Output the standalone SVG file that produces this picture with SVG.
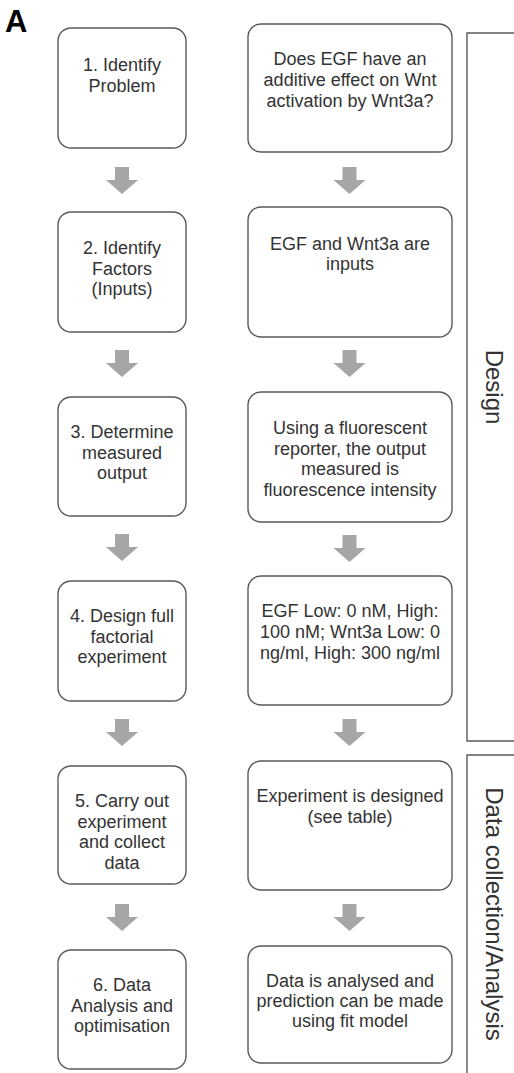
<svg xmlns="http://www.w3.org/2000/svg" width="514" height="1073" viewBox="0 0 514 1073">
<style>
.box{fill:#fff;stroke:#5a5a5a;stroke-width:1.4}
.t{font-family:"Liberation Sans",Arial,sans-serif;font-size:18px;fill:#333;text-anchor:middle}
.side{font-family:"Liberation Sans",Arial,sans-serif;font-size:24px;fill:#333;text-anchor:middle}
.br{fill:none;stroke:#5a5a5a;stroke-width:1.4}
.arr{fill:#a6a6a6}
</style>
<defs>
<path id="arrow" class="arr" d="M-7,0 H7 V13 H16 L0,27 L-16,13 H-7 Z"/>
</defs>
<rect width="514" height="1073" fill="#fff"/>
<text x="5" y="32" font-family="Liberation Sans,Arial,sans-serif" font-size="31" font-weight="bold" fill="#000">A</text>

<g id="connectors">
<use href="#arrow" x="122" y="167"/>
<use href="#arrow" x="122" y="350"/>
<use href="#arrow" x="122" y="534"/>
<use href="#arrow" x="122" y="719"/>
<use href="#arrow" x="122" y="904"/>
<use href="#arrow" x="349.5" y="167"/>
<use href="#arrow" x="349.5" y="350"/>
<use href="#arrow" x="349.5" y="535"/>
<use href="#arrow" x="349.5" y="719"/>
<use href="#arrow" x="349.5" y="904"/>
</g>

<g id="step1">
<rect class="box" x="58" y="28" width="128" height="120" rx="13"/>
<text class="t" x="122" y="71">1. Identify</text>
<text class="t" x="122" y="91.5">Problem</text>
</g>
<g id="step2">
<rect class="box" x="58" y="212" width="128" height="120" rx="13"/>
<text class="t" x="122" y="254">2. Identify</text>
<text class="t" x="122" y="274.5">Factors</text>
<text class="t" x="122" y="295">(Inputs)</text>
</g>
<g id="step3">
<rect class="box" x="58" y="397" width="128" height="119" rx="13"/>
<text class="t" x="122" y="438">3. Determine</text>
<text class="t" x="122" y="458.5">measured</text>
<text class="t" x="122" y="479">output</text>
</g>
<g id="step4">
<rect class="box" x="58" y="581" width="128" height="120" rx="13"/>
<text class="t" x="122" y="622">4. Design full</text>
<text class="t" x="122" y="642.5">factorial</text>
<text class="t" x="122" y="663">experiment</text>
</g>
<g id="step5">
<rect class="box" x="58" y="766" width="128" height="118" rx="13"/>
<text class="t" x="122" y="807">5. Carry out</text>
<text class="t" x="122" y="827.5">experiment</text>
<text class="t" x="122" y="848">and collect</text>
<text class="t" x="122" y="868.5">data</text>
</g>
<g id="step6">
<rect class="box" x="58" y="950" width="128" height="119" rx="13"/>
<text class="t" x="122" y="991">6. Data</text>
<text class="t" x="122" y="1011.5">Analysis and</text>
<text class="t" x="122" y="1032">optimisation</text>
</g>

<g id="desc1">
<rect class="box" x="248" y="24" width="204" height="128" rx="13"/>
<text class="t" x="350" y="65">Does EGF have an</text>
<text class="t" x="350" y="86">additive effect on Wnt</text>
<text class="t" x="350" y="107">activation by Wnt3a?</text>
</g>
<g id="desc2">
<rect class="box" x="248" y="207" width="204" height="130" rx="13"/>
<text class="t" x="350" y="249.5">EGF and Wnt3a are</text>
<text class="t" x="350" y="270">inputs</text>
</g>
<g id="desc3">
<rect class="box" x="248" y="392" width="204" height="130" rx="13"/>
<text class="t" x="350" y="434">Using a fluorescent</text>
<text class="t" x="350" y="454.5">reporter, the output</text>
<text class="t" x="350" y="475">measured is</text>
<text class="t" x="350" y="495.5">fluorescence intensity</text>
</g>
<g id="desc4">
<rect class="box" x="248" y="576" width="204" height="129" rx="13"/>
<text class="t" x="350" y="617">EGF Low: 0 nM, High:</text>
<text class="t" x="350" y="638">100 nM; Wnt3a Low: 0</text>
<text class="t" x="350" y="658.5">ng/ml, High: 300 ng/ml</text>
</g>
<g id="desc5">
<rect class="box" x="248" y="761" width="204" height="129" rx="13"/>
<text class="t" x="350" y="802">Experiment is designed</text>
<text class="t" x="350" y="822.5">(see table)</text>
</g>
<g id="desc6">
<rect class="box" x="248" y="946" width="204" height="117" rx="13"/>
<text class="t" x="350" y="987">Data is analysed and</text>
<text class="t" x="350" y="1007">prediction can be made</text>
<text class="t" x="350" y="1027">using fit model</text>
</g>

<g id="design-bracket">
<path class="br" d="M514,33 H467 V741 H514"/>
<text class="side" transform="translate(486,387) rotate(90)">Design</text>
</g>
<g id="data-bracket">
<path class="br" d="M514,755 H467 V1073"/>
<text class="side" transform="translate(486,914) rotate(90)">Data collection/Analysis</text>
</g>
</svg>
